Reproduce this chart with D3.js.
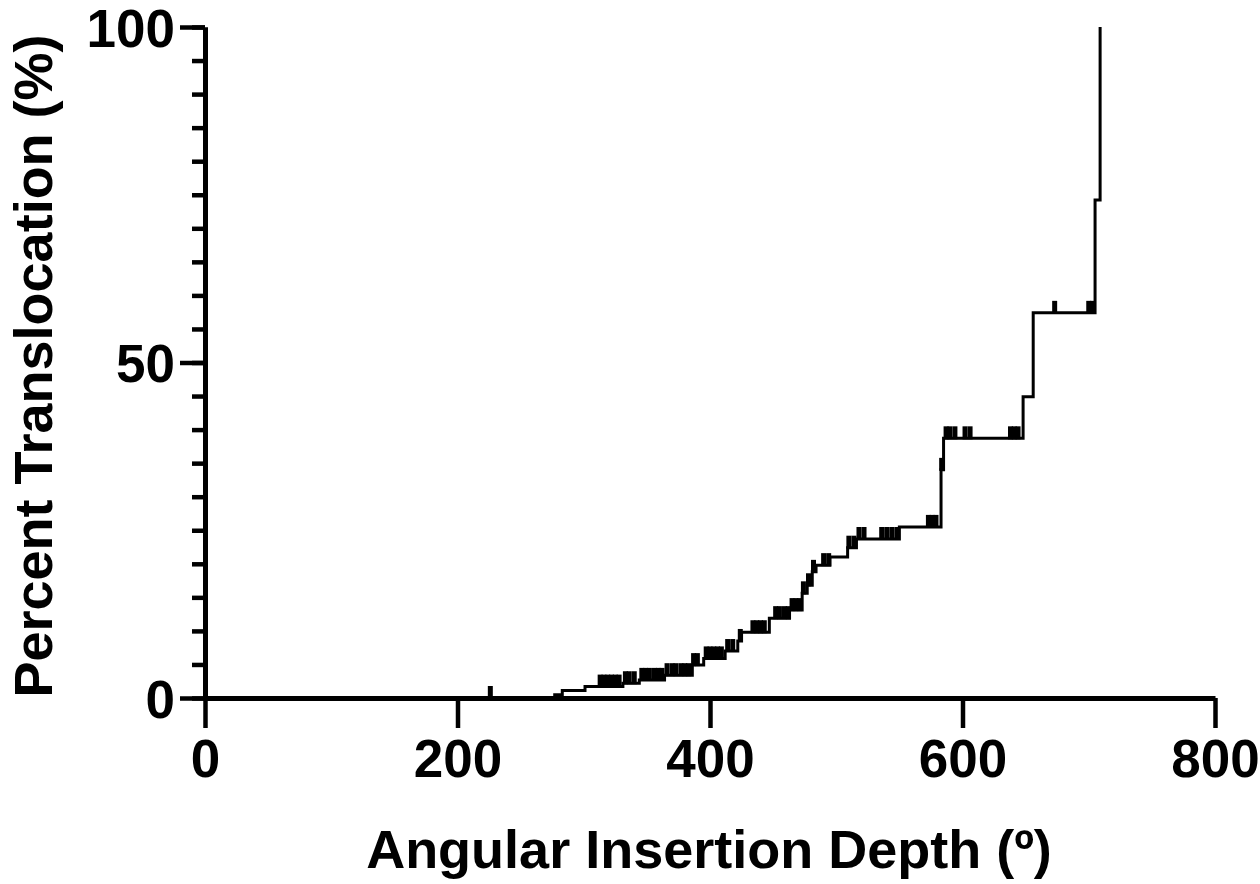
<!DOCTYPE html>
<html>
<head>
<meta charset="utf-8">
<script src="https://cdn.jsdelivr.net/npm/d3@7/dist/d3.min.js"></script>
<style>
  body { margin: 0; background: #fff; }
  svg text { font-family: "Liberation Sans", Arial, sans-serif; font-weight: bold; fill: #000; }
</style>
</head>
<body>
<div id="chart"></div>
<script>

// event steps: depth (deg) and cumulative percent translocated after the step
var stepDepth = [0, 277, 283, 301, 331, 344, 364, 386, 395, 412, 422, 425, 447, 463, 473, 477, 481, 484, 495, 509, 516, 550, 583, 585, 648, 656, 705, 709];
var stepPct   = [0, 0.5, 1.1, 1.7, 2.2, 2.7, 3.4, 4.9, 5.9, 7.0, 8.5, 9.8, 11.9, 13.1, 15.6, 16.8, 18.8, 19.8, 21.0, 22.4, 23.7, 25.5, 34.0, 38.7, 44.9, 57.4, 74.2, 100];

// censored cases (depth in deg)
var censorDepth = [226,
  313, 316, 319, 322, 325, 328,
  333, 336, 340,
  346, 349, 352, 356, 359, 362,
  366, 370, 373, 377, 380, 383,
  387, 390,
  397, 400, 403, 406, 409,
  414, 418, 424,
  434, 437, 440, 443,
  452, 455, 459, 462, 465, 468, 471,
  474, 478, 482, 490, 494,
  510, 514, 518, 522,
  536, 540, 544, 548,
  573, 576, 579, 583.5,
  587, 590, 594, 602, 606, 638, 641, 644,
  673, 700, 703];

var xTicks = [0, 200, 400, 600, 800];
var yMajor = [0, 50, 100];
var yMinor = d3.range(0, 101, 5);

var w = 1260;
var h = 884;

var svg = d3.select("#chart")
  .append("svg")
  .attr("width", w)
  .attr("height", h);

var xScale = d3.scaleLinear().domain([0, 800]).range([205, 1215]);
var yScale = d3.scaleLinear().domain([0, 100]).range([698, 27]);

var steps = stepDepth.map(function(d, i) { return {t: d, p: stepPct[i]}; });

// percent on the curve at a given depth
var bis = d3.bisector(function(d) { return d.t; }).right;
function pctAt(t) {
  var i = bis(steps, t) - 1;
  return steps[Math.max(0, i)].p;
}

//Create Y axis (minor ticks, then major with labels)
svg.append("g")
  .attr("class", "y minor")
  .attr("transform", "translate(205,0)")
  .call(d3.axisLeft(yScale).tickValues(yMinor).tickSize(13).tickSizeOuter(0).tickFormat(""));

svg.append("g")
  .attr("class", "y axis")
  .attr("transform", "translate(205,0)")
  .call(d3.axisLeft(yScale).tickValues(yMajor).tickSize(25).tickSizeOuter(0).tickPadding(5));

//Create X axis
svg.append("g")
  .attr("class", "x axis")
  .attr("transform", "translate(0,698)")
  .call(d3.axisBottom(xScale).tickValues(xTicks).tickSize(30).tickSizeOuter(0).tickPadding(11));

svg.selectAll(".domain").attr("stroke", "#000").attr("stroke-width", 5);
svg.selectAll(".tick line").attr("stroke", "#000").attr("stroke-width", 4.5);
svg.selectAll(".y.axis .tick text").style("font-size", "53px").attr("dy", "0.36em");
svg.selectAll(".x.axis .tick text").style("font-size", "53px");

// step curve
var line = d3.line()
  .x(function(d) { return xScale(d.t); })
  .y(function(d) { return yScale(d.p); })
  .curve(d3.curveStepAfter);

svg.append("path")
  .datum(steps)
  .attr("d", line)
  .attr("fill", "none")
  .attr("stroke", "#000")
  .attr("stroke-width", 3);

// censor marks
svg.selectAll("line.censor")
  .data(censorDepth)
  .enter()
  .append("line")
  .attr("class", "censor")
  .attr("x1", function(d) { return xScale(d); })
  .attr("x2", function(d) { return xScale(d); })
  .attr("y1", function(d) { return yScale(pctAt(d)) + 1; })
  .attr("y2", function(d) { return yScale(pctAt(d)) - 12; })
  .attr("stroke", "#000")
  .attr("stroke-width", 5);

// titles
svg.append("text")
  .attr("text-anchor", "middle")
  .attr("transform", "translate(" + 52 + "," + 366 + ")rotate(-90)")
  .style("font-size", "54px")
  .text("Percent Translocation (%)");

svg.append("text")
  .attr("text-anchor", "middle")
  .attr("transform", "translate(" + 709 + "," + 868 + ")")
  .style("font-size", "54px")
  .text("Angular Insertion Depth (º)");

</script>
</body>
</html>
